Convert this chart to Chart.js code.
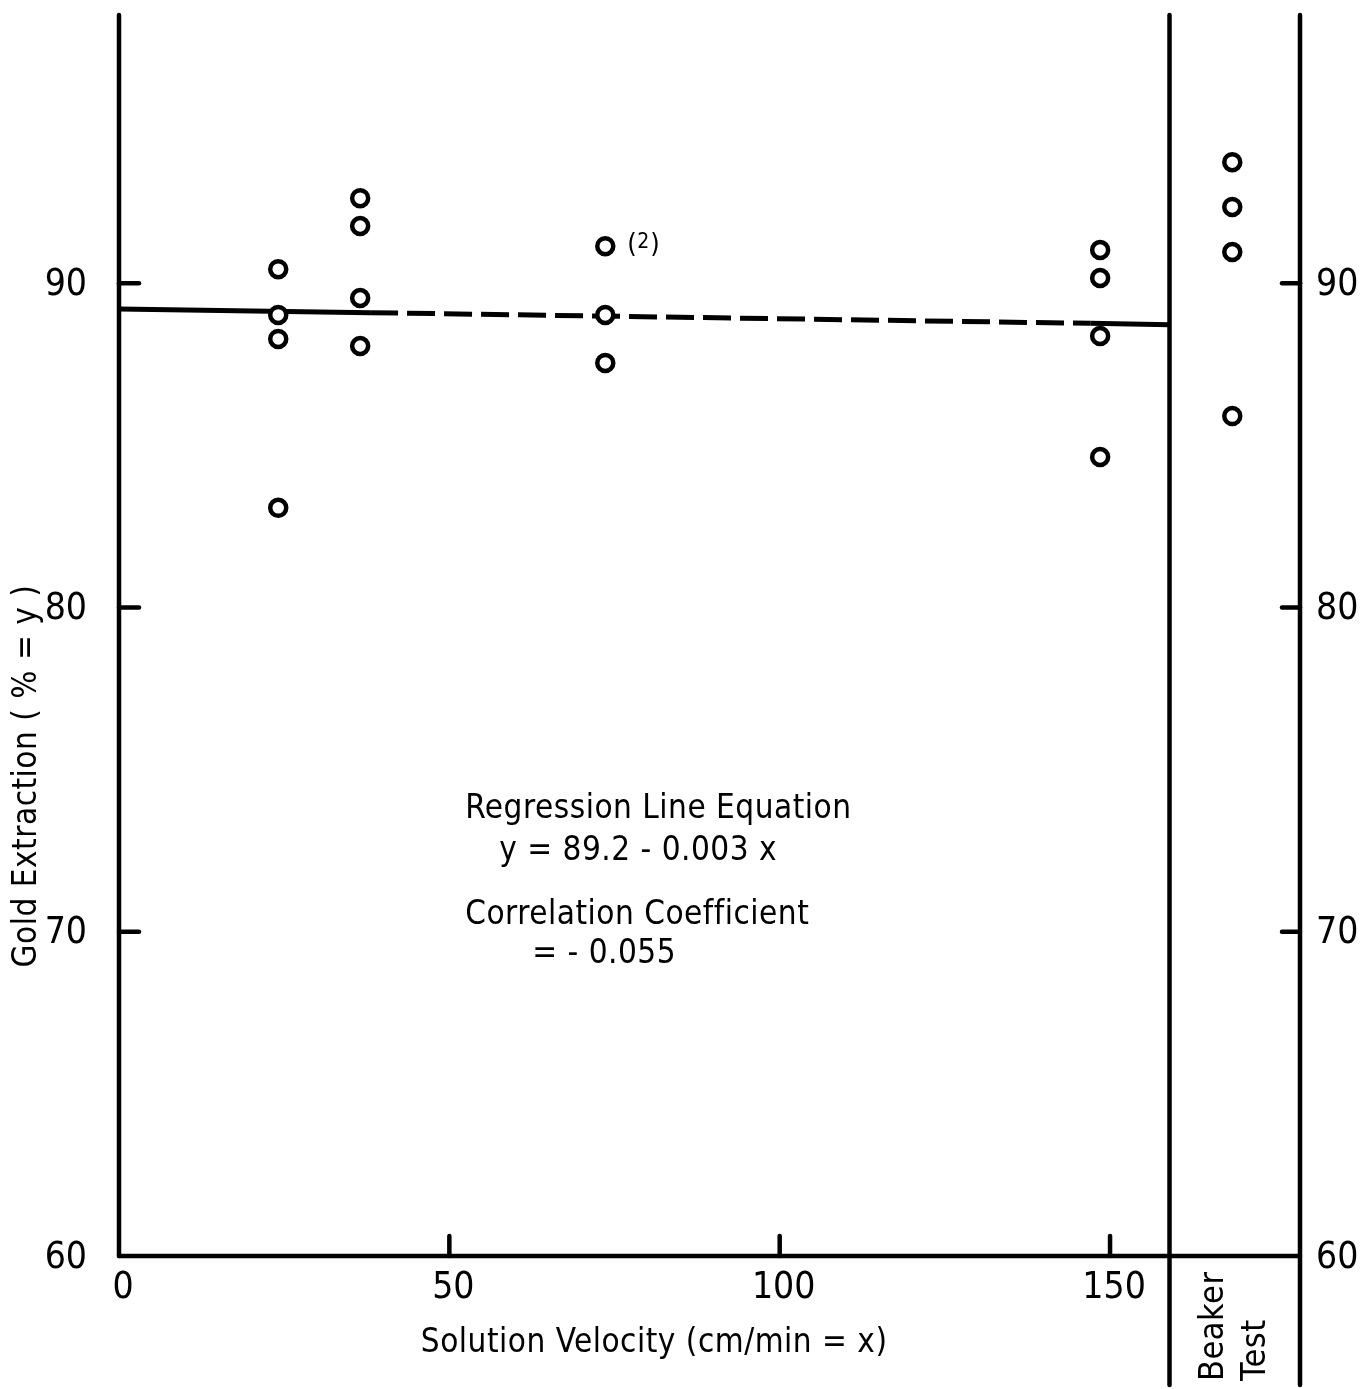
<!DOCTYPE html>
<html>
<head>
<meta charset="utf-8">
<script src="https://cdn.jsdelivr.net/npm/chart.js@4.4.1/dist/chart.umd.min.js"></script>
<style>
  body { margin: 0; background: #fff; }
  #wrap { width: 1363px; height: 1389px; }
</style>
</head>
<body>
<div id="wrap"><canvas id="chart"></canvas></div>
<script>
// velocity columns (cm/min) and the extraction values read at each one
const velocities = [24.1, 36.5, 73.6, 148.5];
const extraction = [
  [90.43, 89.02, 88.28, 83.07],
  [92.62, 91.76, 89.54, 88.06],
  [91.14, 89.02, 87.54],
  [91.02, 90.16, 88.37, 84.64]
];
// beaker test sits in its own strip right of the velocity axis
const beakerX = 168.5;
const beakerY = [93.73, 92.35, 90.96, 85.9];
// regression line y = 89.2 - 0.003x, solid / dashed / solid pieces
const regX = [0, 38, 147, 159];
const regY = [89.2, 89.09, 88.76, 88.72];
const xTicks = [0, 50, 100, 150];
const yTicks = [60, 70, 80, 90];
const sepX = 159;

const FONT = '"DejaVu Sans Condensed", "Liberation Sans Narrow", "Liberation Sans", sans-serif';

const points = [];
velocities.forEach((v, i) => extraction[i].forEach(e => points.push({ x: v, y: e })));
const beaker = beakerY.map(e => ({ x: beakerX, y: e }));
const reg = regX.map((v, i) => ({ x: v, y: regY[i] }));

const frame = {
  id: 'frame',
  beforeDatasetsDraw(chart) {
    const { ctx, scales: { x, y } } = chart;
    const left = x.getPixelForValue(0);
    const right = x.getPixelForValue(x.max);
    const sep = x.getPixelForValue(sepX);
    const top = y.getPixelForValue(y.max) + 2;
    const base = y.getPixelForValue(60);
    const bottom = chart.height - 4;
    const line = (x1, y1, x2, y2) => { ctx.beginPath(); ctx.moveTo(x1, y1); ctx.lineTo(x2, y2); ctx.stroke(); };
    ctx.save();
    ctx.strokeStyle = '#000';
    ctx.lineWidth = 4.5;
    ctx.lineCap = 'round';
    line(left, top, left, base);
    line(left, base, right, base);
    line(sep, top, sep, bottom);
    line(right, top, right, bottom);
    yTicks.slice(1).forEach(v => {
      const py = y.getPixelForValue(v);
      line(left, py, left + 20, py);
      line(right - 18, py, right, py);
    });
    xTicks.slice(1).forEach(v => {
      const px = x.getPixelForValue(v);
      line(px, base, px, base - 20);
    });
    ctx.restore();
  },
  afterDraw(chart) {
    const { ctx, scales: { x, y } } = chart;
    const left = x.getPixelForValue(0);
    const right = x.getPixelForValue(x.max);
    const base = y.getPixelForValue(60);
    ctx.save();
    ctx.fillStyle = '#000';

    // tick labels
    ctx.font = '37px ' + FONT;
    ctx.textBaseline = 'middle';
    yTicks.forEach(v => {
      const py = y.getPixelForValue(v) + 2;
      ctx.textAlign = 'right';
      ctx.fillText(String(v), left - 32, py);
      ctx.textAlign = 'left';
      ctx.fillText(String(v), right + 16, py);
    });
    ctx.textAlign = 'center';
    ctx.textBaseline = 'top';
    xTicks.forEach(v => ctx.fillText(String(v), x.getPixelForValue(v) + 4, base + 14));

    // axis titles
    ctx.font = '33px ' + FONT;
    ctx.letterSpacing = '0.5px';
    ctx.textBaseline = 'alphabetic';
    ctx.textAlign = 'center';
    ctx.fillText('Solution Velocity (cm/min = x)', x.getPixelForValue(81), 1352);
    ctx.save();
    ctx.translate(36, y.getPixelForValue(74.8));
    ctx.rotate(-Math.PI / 2);
    ctx.fillText('Gold Extraction ( % = y )', 0, 0);
    ctx.restore();

    // beaker strip label
    ctx.save();
    ctx.font = '34px ' + FONT;
    ctx.textAlign = 'left';
    ctx.translate(x.getPixelForValue(beakerX), 1381);
    ctx.rotate(-Math.PI / 2);
    ctx.fillText('Beaker', 0, -9);
    ctx.fillText('Test', 0, 33);
    ctx.restore();

    // equation block
    const ex = x.getPixelForValue(52.4);
    ctx.textAlign = 'left';
    ctx.fillText('Regression Line Equation', ex, y.getPixelForValue(73.5));
    ctx.fillText('y = 89.2 - 0.003 x', ex + 34, y.getPixelForValue(72.2));
    ctx.fillText('Correlation Coefficient', ex, y.getPixelForValue(70.25));
    ctx.fillText('= - 0.055', ex + 67, y.getPixelForValue(69.05));

    // (2) marker next to the duplicated point
    ctx.letterSpacing = '0px';
    const px = x.getPixelForValue(velocities[2]) + 22;
    const py = y.getPixelForValue(extraction[2][0]) + 6;
    ctx.font = '27px ' + FONT;
    ctx.fillText('(', px, py);
    ctx.font = '21px ' + FONT;
    ctx.fillText('2', px + 10, py - 4);
    ctx.font = '27px ' + FONT;
    ctx.fillText(')', px + 23, py);
    ctx.restore();
  }
};

new Chart(document.getElementById('chart'), {
  type: 'scatter',
  data: {
    datasets: [
      {
        type: 'line',
        data: reg,
        borderColor: '#000',
        borderWidth: 5,
        pointRadius: 0,
        fill: false,
        segment: {
          borderDash: c => (c.p0DataIndex === 1 ? [28, 9] : undefined)
        },
        order: 2
      },
      {
        data: points,
        pointRadius: 8,
        pointBorderWidth: 4.5,
        borderWidth: 4.5,
        borderColor: '#000',
        backgroundColor: '#fff',
        order: 1
      },
      {
        data: beaker,
        pointRadius: 8,
        pointBorderWidth: 4.5,
        borderWidth: 4.5,
        borderColor: '#000',
        backgroundColor: '#fff',
        order: 1
      }
    ]
  },
  options: {
    responsive: true,
    maintainAspectRatio: false,
    animation: false,
    layout: { padding: { left: 119, right: 63, top: 13, bottom: 133 } },
    scales: {
      x: { type: 'linear', min: 0, max: 178.75, display: false },
      y: { min: 60, max: 98.33, display: false }
    },
    plugins: { legend: { display: false }, tooltip: { enabled: false } }
  },
  plugins: [frame]
});
</script>
</body>
</html>
